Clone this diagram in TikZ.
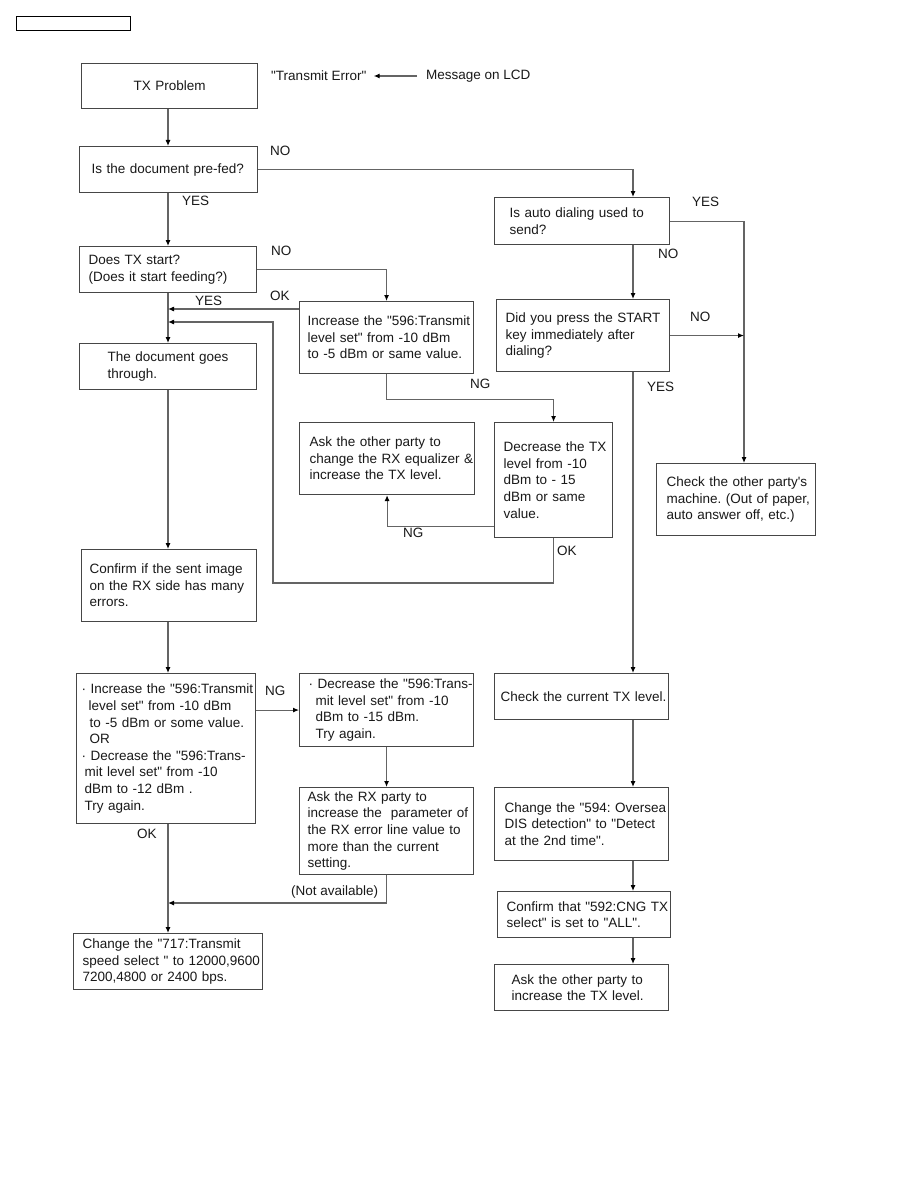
\documentclass[tikz,border=0pt]{standalone}
\usepackage{fontspec}
\newfontfamily\flowfam{Liberation Sans}
\usetikzlibrary{arrows.meta, positioning, calc}
\definecolor{linegray}{RGB}{100,100,100}
\definecolor{boxgray}{RGB}{70,70,70}
\definecolor{textdark}{RGB}{25,25,25}
\newcommand{\flowfont}{\flowfam\fontsize{13.5}{16.6}\selectfont\frenchspacing}

\tikzset{
  box/.style={draw=boxgray, line width=1.1pt, inner xsep=0pt, inner ysep=0pt,
    align=left, anchor=north west, text=textdark, font=\flowfont},
  lpad/.style={execute at begin node={\leftskip=#1pt\rightskip=-10pt plus 1fil\hyphenpenalty=10000\relax}},
  lbl/.style={inner sep=0pt, anchor=west, text=textdark, font=\flowfont},
  arr/.style={draw=linegray, line width=1.1pt, -{Latex[length=6pt,width=5pt,color=black]}},
}

\begin{document}
\begin{tikzpicture}[x=1pt, y=-1pt]
  \fill[white] (0,0) rectangle (918,1188);
  \useasboundingbox (0,0) rectangle (918,1188);
  \draw[black, line width=1pt] (16,17) rectangle (130,31);

  \coordinate (lcol) at (168,0);
  \coordinate (rcol) at (633,0);
  \coordinate (ycol) at (744,0);

  % left column
  \node[box, text width=176pt, minimum height=45pt, align=center] (txp) at (81,63) {TX Problem};
  \node[box, lpad=12, text width=178pt, minimum height=46pt] (pf) at (79,146) {Is the document pre-fed?};
  \node[box, lpad=9, text width=177pt, minimum height=46pt] (dtx) at (79,246) {Does TX start?\\(Does it start feeding?)};
  \node[box, lpad=28, text width=177pt, minimum height=46pt] (dgt) at (79,343) {The document goes\\through.};
  \node[box, lpad=8, text width=175pt, minimum height=72pt] (cnf) at (81,549) {Confirm if the sent image\\on the RX side has many\\errors.};
  \node[box, lpad=5, text width=179pt, minimum height=150pt] (incdec) at (76,673)
    {· Increase the "596:Transmit\\\hspace*{7pt}level set" from -10 dBm\\\hspace*{8pt}to -5 dBm or some value.\\\hspace*{8pt}OR\\
     · Decrease the "596:Trans-\\\hspace*{3pt}mit level set" from -10\\\hspace*{3pt}dBm to -12 dBm .\\\hspace*{3pt}Try again.};
  \node[box, lpad=9, text width=189pt, minimum height=56pt] (spd) at (73,933) {Change the "717:Transmit\\speed select " to 12000,9600\\7200,4800 or 2400 bps.};

  % middle column
  \node[box, lpad=8, text width=174pt, minimum height=72pt] (inc) at (299,301) {Increase the "596:Transmit\\level set" from -10 dBm\\to -5 dBm or same value.};
  \node[box, lpad=10, text width=175pt, minimum height=72pt] (eq) at (299,422) {Ask the other party to\\change the RX equalizer \&\\increase the TX level.};
  \node[box, lpad=9, text width=118pt, minimum height=115pt] (dec) at (494,422) {Decrease the TX\\level from -10\\dBm to - 15\\dBm or same\\value.};
  \node[box, lpad=9, text width=174pt, minimum height=73pt] (dec596) at (299,673)
    {· Decrease the "596:Trans-\\\hspace*{7pt}mit level set" from -10\\\hspace*{7pt}dBm to -15 dBm.\\\hspace*{7pt}Try again.};
  \node[box, lpad=8, text width=174pt, minimum height=87pt] (rxp) at (299,787) {Ask the RX party to\\increase the\ \ parameter of\\the RX error line value to\\more than the current\\setting.};

  % right column
  \node[box, lpad=15, text width=175pt, minimum height=47pt] (auto) at (494,197) {Is auto dialing used to\\send?};
  \node[box, lpad=9, text width=173pt, minimum height=72pt] (did) at (496,299) {Did you press the START\\key immediately after\\dialing?};
  \node[box, lpad=10, text width=159pt, minimum height=72pt] (chk) at (656,463) {Check the other party's\\machine. (Out of paper,\\auto answer off, etc.)};
  \node[box, lpad=6, text width=174pt, minimum height=46pt] (ctx) at (494,673) {Check the current TX level.};
  \node[box, lpad=10, text width=174pt, minimum height=73pt] (cfs) at (494,787) {Change the "594: Oversea\\DIS detection" to "Detect\\at the 2nd time".};
  \node[box, lpad=9, text width=173pt, minimum height=46pt] (cng) at (497,891) {Confirm that "592:CNG TX\\select" is set to "ALL".};
  \node[box, lpad=17, text width=174pt, minimum height=46pt] (ask) at (494,964) {Ask the other party to\\increase the TX level.};

  % message on LCD
  \node[lbl] (terr) at (271,76) {"Transmit Error"};
  \node[lbl] (lcd) at (426,76) {Message on LCD};
  \draw[arr, shorten <=9pt, shorten >=7pt] (lcd.west) -- (terr.east);

  % branch labels
  \node[lbl] (pfno) at (270,151) {NO};
  \node[lbl] (pfyes) at (182,201) {YES};
  \node[lbl] (dtxno) at (271,251) {NO};
  \node[lbl] (dtxyes) at (195,301) {YES};
  \node[lbl] (incok) at (270,296) {OK};
  \node[lbl] (incng) at (470,384) {NG};
  \node[lbl] (decng) at (403,533) {NG};
  \node[lbl] (decok) at (557,551) {OK};
  \node[lbl] (autoyes) at (692,202) {YES};
  \node[lbl] (autono) at (658,254) {NO};
  \node[lbl] (didno) at (690,317) {NO};
  \node[lbl] (didyes) at (647,387) {YES};
  \node[lbl] (idng) at (265,691) {NG};
  \node[lbl] (idok) at (137,834) {OK};
  \node[lbl] (noav) at (291,892) {(Not available)};

  % connectors
  \draw[arr] (txp.south -| lcol) -- (pf.north -| lcol);
  \draw[arr] (pf.south -| lcol) -- (dtx.north -| lcol);
  \draw[arr] (pf.east) -| (auto.north -| rcol);
  \draw[arr] (dtx.east) -| (inc.north);
  \draw[arr] (dtx.south -| lcol) -- (dgt.north -| lcol);
  \coordinate (okin) at ([yshift=-8pt]inc.north west);
  \draw[arr] (okin) -- (okin -| lcol);
  \draw[arr] (inc.south) -- ++(0,25) -| (dec.north);
  \draw[arr] ([yshift=12pt]dec.south west) -| (eq.south);
  \coordinate (okloop) at (273,583);
  \draw[arr] (dec.south) |- (okloop) |- ($(dgt.north -| lcol)+(0,-21)$);
  \draw[arr] (dgt.south -| lcol) -- (cnf.north -| lcol);
  \draw[arr] (cnf.south -| lcol) -- (incdec.north -| lcol);
  \draw[arr] (incdec.east |- dec596.west) -- (dec596.west);
  \draw[arr] (dec596.south) -- (rxp.north);
  \draw[arr] (rxp.south) |- ($(spd.north -| lcol)+(0,-30)$);
  \draw[arr] (incdec.south -| lcol) -- (spd.north -| lcol);
  \draw[arr] (auto.east) -| (chk.north -| ycol);
  \draw[arr] (auto.south -| rcol) -- (did.north -| rcol);
  \draw[arr] (did.east) -- (did.east -| ycol);
  \draw[arr] (did.south -| rcol) -- (ctx.north -| rcol);
  \draw[arr] (ctx.south -| rcol) -- (cfs.north -| rcol);
  \draw[arr] (cfs.south -| rcol) -- (cng.north -| rcol);
  \draw[arr] (cng.south -| rcol) -- (ask.north -| rcol);
\end{tikzpicture}
\end{document}
